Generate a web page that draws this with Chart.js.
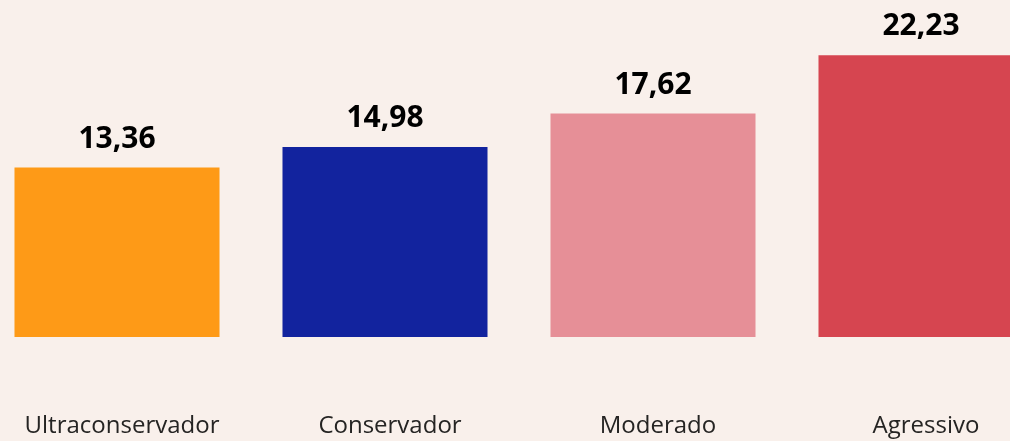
<!DOCTYPE html>
<html>
<head>
<meta charset="utf-8">
<script src="https://cdn.jsdelivr.net/npm/chart.js@4/dist/chart.umd.min.js"></script>
<style>
html,body{margin:0;padding:0;width:1010px;height:441px;overflow:hidden;background:#F9F0EB;}
#c{position:absolute;left:-17px;top:0;width:1072px;height:441px;}
</style>
</head>
<body>
<canvas id="c" width="1072" height="441"></canvas>
<script>
const categories = ["Ultraconservador", "Conservador", "Moderado", "Agressivo"];
const values = [13.36, 14.98, 17.62, 22.23];
const barColors = ["#FE9A17", "#12239E", "#E68F97", "#D64550"];

const valueLabels = {
  id: 'valueLabels',
  afterDatasetsDraw(chart) {
    const ctx = chart.ctx;
    const meta = chart.getDatasetMeta(0);
    ctx.save();
    ctx.font = "bold 30px 'Open Sans', 'Noto Sans', sans-serif";
    ctx.fillStyle = "#000000";
    ctx.textAlign = "center";
    ctx.textBaseline = "alphabetic";
    meta.data.forEach((bar, i) => {
      const txt = values[i].toFixed(2).replace('.', ',');
      ctx.fillText(txt, bar.x, bar.y - 20);
    });
    ctx.restore();
  }
};

new Chart(document.getElementById('c'), {
  type: 'bar',
  data: {
    labels: categories,
    datasets: [{
      data: values,
      backgroundColor: barColors,
      borderWidth: 0,
      barPercentage: 0.765,
      categoryPercentage: 1.0
    }]
  },
  options: {
    responsive: false,
    maintainAspectRatio: false,
    animation: false,
    devicePixelRatio: 1,
    layout: { padding: 0 },
    plugins: { legend: { display: false }, tooltip: { enabled: false } },
    scales: {
      x: {
        grid: { display: false, drawTicks: false },
        border: { display: false },
        ticks: {
          color: "#252423",
          font: { family: "'Open Sans', 'Noto Sans', sans-serif", size: 24, lineHeight: 1.2 },
          padding: 75,
          labelOffset: 5,
          maxRotation: 0,
          autoSkip: false
        },
        afterFit(scale) {
          scale.height = 104;
          scale.paddingLeft = 0;
          scale.paddingRight = 0;
          scale.paddingTop = 0;
          scale.paddingBottom = 0;
        }
      },
      y: {
        display: false,
        min: 0,
        max: 26.58
      }
    }
  },
  plugins: [valueLabels]
});
</script>
</body>
</html>
